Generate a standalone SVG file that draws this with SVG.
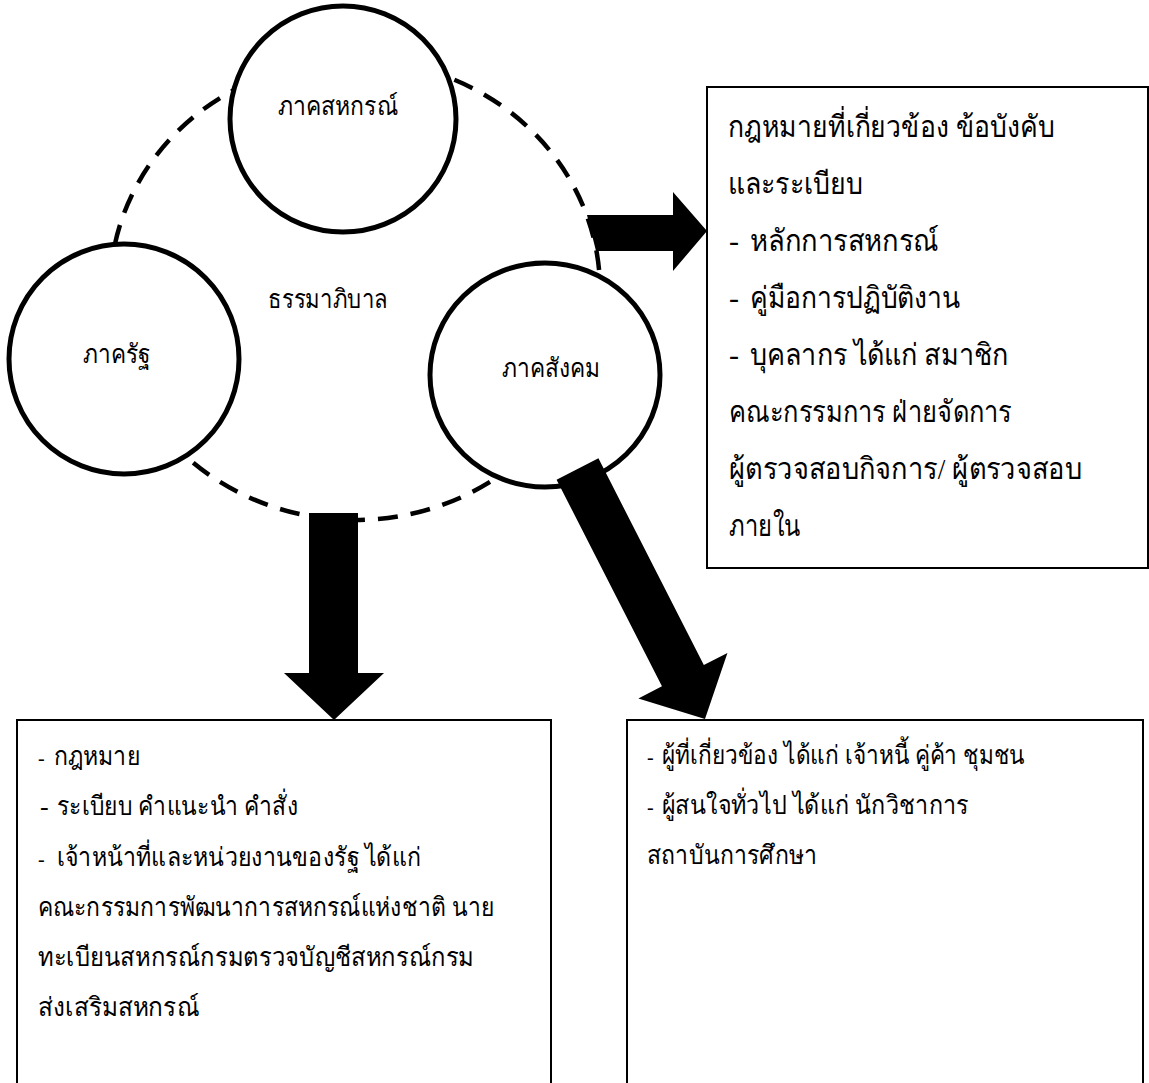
<svg xmlns="http://www.w3.org/2000/svg" width="1149" height="1083" viewBox="0 0 1149 1083">
<style>
.c{fill:#fff;stroke:#000;stroke-width:5}
.d{fill:none;stroke:#000;stroke-width:4.5;stroke-dasharray:20 13}
.b{fill:#fff;stroke:#000;stroke-width:2}
.a{fill:#000}
text{font-family:'Liberation Serif','DejaVu Serif',serif;fill:#000}
.l{font-size:26px}
.r{font-size:30px}
.t{font-size:26px}
.s{font-size:20px}
</style>
<rect width="1149" height="1083" fill="#fff"/>
<g id="governance">
<ellipse class="d" cx="355" cy="290" rx="245" ry="230"/>
<text class="l" x="268" y="308" textLength="120" lengthAdjust="spacingAndGlyphs">ธรรมาภิบาล</text>
</g>
<g id="coop-sector">
<circle class="c" cx="343" cy="119" r="113"/>
<text class="l" x="278" y="115" textLength="120" lengthAdjust="spacingAndGlyphs">ภาคสหกรณ์</text>
</g>
<g id="state-sector">
<circle class="c" cx="124" cy="359" r="115"/>
<text class="l" x="83" y="363" textLength="67" lengthAdjust="spacingAndGlyphs">ภาครัฐ</text>
</g>
<g id="social-sector">
<ellipse class="c" cx="545" cy="375" rx="115" ry="112"/>
<text class="l" x="502" y="377" textLength="98" lengthAdjust="spacingAndGlyphs">ภาคสังคม</text>
</g>
<g id="connectors">
<polygon class="a" points="587,215 673,215 673,192 707,231 673,271 673,251 596,251"/>
<polygon class="a" points="309,513 358,513 358,673 384,673 334,720 284,673 309,673"/>
<polygon class="a" transform="translate(577.5,469) rotate(62.98)" points="0,-23.5 232,-23.5 232,-50 280.6,0 232,50 232,23.5 0,23.5"/>
</g>
<g id="box-rules">
<rect class="b" x="707" y="87" width="441" height="481"/>
<text class="r" x="728" y="137" textLength="327" lengthAdjust="spacingAndGlyphs">กฎหมายที่เกี่ยวข้อง ข้อบังคับ</text>
<text class="r" x="728" y="194" textLength="135" lengthAdjust="spacingAndGlyphs">และระเบียบ</text>
<text class="r" x="729" y="251">-</text>
<text class="r" x="750" y="251" textLength="189" lengthAdjust="spacingAndGlyphs">หลักการสหกรณ์</text>
<text class="r" x="729" y="308">-</text>
<text class="r" x="750" y="308" textLength="211" lengthAdjust="spacingAndGlyphs">คู่มือการปฏิบัติงาน</text>
<text class="r" x="729" y="365">-</text>
<text class="r" x="750" y="365" textLength="258" lengthAdjust="spacingAndGlyphs">บุคลากร ได้แก่ สมาชิก</text>
<text class="r" x="729" y="422" textLength="283" lengthAdjust="spacingAndGlyphs">คณะกรรมการ ฝ่ายจัดการ</text>
<text class="r" x="729" y="479" textLength="353" lengthAdjust="spacingAndGlyphs">ผู้ตรวจสอบกิจการ/ ผู้ตรวจสอบ</text>
<text class="r" x="729" y="536" textLength="72" lengthAdjust="spacingAndGlyphs">ภายใน</text>
</g>
<g id="box-state">
<rect class="b" x="17" y="720" width="534" height="400"/>
<text class="s" x="38" y="765">-</text>
<text class="t" x="54" y="765" textLength="86" lengthAdjust="spacingAndGlyphs">กฎหมาย</text>
<text class="t" x="40" y="815">-</text>
<text class="t" x="57" y="815" textLength="241" lengthAdjust="spacingAndGlyphs">ระเบียบ คำแนะนำ คำสั่ง</text>
<text class="s" x="38" y="866">-</text>
<text class="t" x="57" y="866" textLength="364" lengthAdjust="spacingAndGlyphs">เจ้าหน้าที่และหน่วยงานของรัฐ ได้แก่</text>
<text class="t" x="38" y="916" textLength="456" lengthAdjust="spacingAndGlyphs">คณะกรรมการพัฒนาการสหกรณ์แห่งชาติ นาย</text>
<text class="t" x="38" y="966" textLength="436" lengthAdjust="spacingAndGlyphs">ทะเบียนสหกรณ์กรมตรวจบัญชีสหกรณ์กรม</text>
<text class="t" x="38" y="1016" textLength="161" lengthAdjust="spacingAndGlyphs">ส่งเสริมสหกรณ์</text>
</g>
<g id="box-social">
<rect class="b" x="627" y="720" width="516" height="400"/>
<text class="s" x="647" y="764">-</text>
<text class="t" x="662" y="764" textLength="363" lengthAdjust="spacingAndGlyphs">ผู้ที่เกี่ยวข้อง ได้แก่ เจ้าหนี้ คู่ค้า ชุมชน</text>
<text class="s" x="647" y="814">-</text>
<text class="t" x="662" y="814" textLength="307" lengthAdjust="spacingAndGlyphs">ผู้สนใจทั่วไป ได้แก่ นักวิชาการ</text>
<text class="t" x="647" y="864" textLength="170" lengthAdjust="spacingAndGlyphs">สถาบันการศึกษา</text>
</g>
</svg>
